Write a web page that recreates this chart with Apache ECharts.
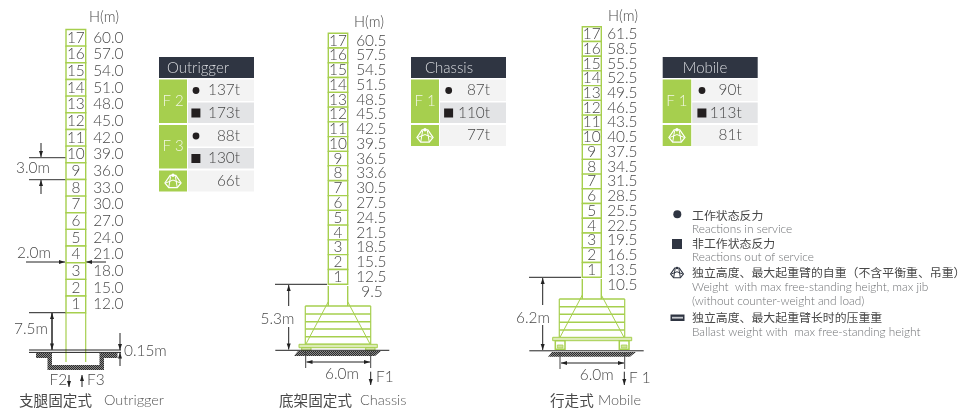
<!DOCTYPE html>
<html><head><meta charset="utf-8">
<style>html,body{margin:0;padding:0;background:#fff}#c{width:964px;height:410px}</style>
<script src="https://cdn.jsdelivr.net/npm/echarts@6/dist/echarts.min.js"></script>
</head><body><div id="c"></div>
<script>
const sections = [17,16,15,14,13,12,11,10,9,8,7,6,5,4,3,2,1];
const outriggerH = [60.0,57.0,54.0,51.0,48.0,45.0,42.0,39.0,36.0,33.0,30.0,27.0,24.0,21.0,18.0,15.0,12.0];
const chassisH   = [60.5,57.5,54.5,51.5,48.5,45.5,42.5,39.5,36.5,33.6,30.5,27.5,24.5,21.5,18.5,15.5,12.5];
const mobileH    = [61.5,58.5,55.5,52.5,49.5,46.5,43.5,40.5,37.5,34.5,31.5,28.5,25.5,22.5,19.5,16.5,13.5];
const chassisBase = [9.5];
const mobileBase = [10.5];
const outriggerRows = [['F 2',137,173],['F 3',88,130]];
const outriggerWeight = 66;
const chassisRows = [['F 1',87,110]];
const chassisWeight = 77;
const mobileRows = [['F 1',90,113]];
const mobileWeight = 81;

const GREEN='#a6cf4e', DARK='#2f3542', TXT='#484848', GREY='#6f7174', BLK='#231f20';
const LAT='Lato, "Open Sans", sans-serif', CJK='"Noto Sans CJK SC", sans-serif';
const NUM=15.4;

const hatchCanvas=document.createElement('canvas');
hatchCanvas.width=2;hatchCanvas.height=2;
(function(){const g=hatchCanvas.getContext('2d');g.fillStyle='#8a8a8a';g.fillRect(0,0,2,2);g.fillStyle='#2c2c2c';g.fillRect(0,0,1,1);g.fillRect(1,1,1,1);})();
const HATCH={image:hatchCanvas,repeat:'repeat'};

const els=[];
function line(x1,y1,x2,y2,c,w){els.push({type:'line',silent:true,shape:{x1,y1,x2,y2},style:{stroke:c||'#333',lineWidth:w||1}});}
function rect(x,y,w,h,fill,stroke,lw){els.push({type:'rect',silent:true,shape:{x,y,width:w,height:h},style:{fill:fill||'none',stroke:stroke||'none',lineWidth:lw||1}});}
function poly(points,fill,stroke,lw){els.push({type:'polygon',silent:true,shape:{points},style:{fill:fill||'none',stroke:stroke||'none',lineWidth:lw||1}});}
function text(x,y,s,o){o=o||{};els.push({type:'text',silent:true,style:{x,y,text:s,align:o.align||'left',verticalAlign:'middle',fill:o.color||TXT,font:(o.weight||300)+' '+(o.size||NUM)+'px '+(o.family||LAT)}});}
function arrow(x1,y1,x2,y2,c){
  c=c||'#222';line(x1,y1,x2,y2,c,1);
  const d=Math.hypot(x2-x1,y2-y1),ux=(x2-x1)/d,uy=(y2-y1)/d,L=6,H=2;
  poly([[x2,y2],[x2-ux*L-uy*H,y2-uy*L+ux*H],[x2-ux*L+uy*H,y2-uy*L-ux*H]],c);
}
function truss(cx,cy,c,s){ // weight icon
  s=s||1;
  const p=(pts)=>pts.map(a=>[cx+a[0]*s,cy+a[1]*s]);
  els.push({type:'polygon',silent:true,shape:{points:p([[-3,-6],[3,-6],[8.5,2],[4.5,7],[-4.5,7],[-8.5,2]])},style:{fill:'none',stroke:c,lineWidth:1.2}});
  els.push({type:'circle',silent:true,shape:{cx:cx,cy:cy-6*s,r:1.8*s},style:{fill:c,stroke:'none'}});
  els.push({type:'polyline',silent:true,shape:{points:p([[-2.5,-5],[-4.5,7]])},style:{fill:'none',stroke:c,lineWidth:1}});
  els.push({type:'polyline',silent:true,shape:{points:p([[2.5,-5],[4.5,7]])},style:{fill:'none',stroke:c,lineWidth:1}});
  els.push({type:'polyline',silent:true,shape:{points:p([[-7.5,2],[0,-1],[7.5,2]])},style:{fill:'none',stroke:c,lineWidth:1}});
}
function table(x,title,titleCx,rows,weight,colW,symX,valR){
  const w=95;
  rect(x,57,w,21,DARK);
  text(titleCx,68,title,{align:'center',color:'#d8dade',size:15});
  let y=79.5;
  rows.forEach(r=>{
    const h=44.5;
    rect(x,y,colW,h-1,GREEN);
    text(x+colW/2,y+h/2-1,r[0],{align:'center',color:'#f3f7e6',size:15});
    rect(x+colW+1,y,w-colW-1,21.5,'#f3f3f3');
    rect(x+colW+1,y+23,w-colW-1,20.5,'#e3e4e6');
    els.push({type:'circle',silent:true,shape:{cx:symX,cy:y+11,r:3.4},style:{fill:BLK}});
    rect(symX-4.6,y+29,9,9,BLK);
    text(valR,y+11,r[1]+'t',{align:'right'});
    text(valR,y+33.5,r[2]+'t',{align:'right'});
    y+=h+1;
  });
  rect(x,y,colW,21,GREEN);
  truss(x+colW/2,y+10.5,'#fff',0.95);
  rect(x+colW+1,y,w-colW-1,21,'#f3f3f3');
  text(valR,y+10.5,weight+'t',{align:'right'});
}

/* outrigger base */
line(29,157.7,66,157.7,'#333',1);line(29,179.7,66,179.7,'#333',1);
arrow(41,143,41,157);arrow(41,194,41,180);
text(33,168,'3.0m',{align:'center'});
text(34,253,'2.0m',{align:'center'});
arrow(26,262,65,262);arrow(106,262,86,262);
line(66,312.7,66,362,GREEN,1.2);line(85.7,312.7,85.7,362,GREEN,1.2);
line(29,312.7,66,312.7,'#222',1);
line(52,313,52,350,'#222',1);
arrow(52,330,52,313);arrow(52,330,52,349.5);
text(31,329.5,'7.5m',{align:'center'});
poly([[36,353],[52,353],[52,365],[99.5,365],[99.5,353],[117.5,353],[117.5,358],[104,358],[104,370],[47.5,370],[47.5,358],[36,358]],HATCH);
line(29,350,121,350,'#222',1);line(29,352.4,121,352.4,'#222',1);
arrow(120,333,120,350);arrow(120,366,120,352.4);
text(124,351,'0.15m');
text(49.5,380,'F2');arrow(69,375,69,387);arrow(82,387,82,375);text(87,380,'F3');
text(19,400,'支腿固定式',{family:CJK,size:14.6,weight:400});
text(104,400,'Outrigger',{size:14.5,color:'#555'});
text(104,17,'H(m)',{align:'center',size:14.6});

/* chassis base */
function frame(l,r,ys,topX1,topX2,topY,towerBottom){
  line(topX1,towerBottom-20,topX1,towerBottom,GREEN,1.4);line(topX2,towerBottom-20,topX2,towerBottom,GREEN,1.4);
  line(l,ys[0],l,ys[5],GREEN,1.2);line(r,ys[0],r,ys[5],GREEN,1.2);
  ys.forEach(y=>line(l,y,r,y,GREEN,1.4));
  line(topX1,topY,l+.5,ys[5],GREEN,1);line(topX2,topY,r-.5,ys[5],GREEN,1);
}
frame(305.3,370.7,[306,314,321.7,329,336.7,344.3],328.3,347.7,301.7,306);
rect(299,344.3,78.3,3.4,'#dcebb5',GREEN,1);
rect(301.7,347.7,9.3,2.5,'#dcebb5',GREEN,1);rect(365.7,347.7,9.3,2.5,'#dcebb5',GREEN,1);
poly([[298,351],[381,351],[375,356],[294,356]],HATCH);
line(275.3,350.3,389.3,350.3,'#222',1);
line(275,284.3,327,284.3,'#222',1);
arrow(288.7,306,288.7,285);arrow(288.7,327,288.7,349.5);
text(277.5,319,'5.3m',{align:'center'});
line(305.7,352,305.7,368,'#444',1);line(370.7,352,370.7,368,'#444',1);
arrow(338,362,306.5,362);arrow(338,362,370,362);
text(342,374,'6.0m',{align:'center'});
arrow(370.7,371.7,370.7,385);text(376,377,'F1');
text(279,400,'底架固定式',{family:CJK,size:14.6,weight:400});
text(360,400,'Chassis',{size:14.5,color:'#555'});
text(369,22,'H(m)',{align:'center',size:14.6});

/* mobile base */
frame(559.3,624.7,[299,306.7,314.3,322.3,330,337.7],582.3,601.3,295,299);
rect(552.7,337.3,79,3.4,'#dcebb5',GREEN,1);
[555.3,619.3].forEach(x=>{rect(x,340.7,9.7,8.5,'#fff',GREEN,1.5);rect(x+2,345,5.7,3,'#cfe39a',GREEN,.8);});
poly([[552,352],[636,352],[630,356.8],[548,356.8]],HATCH);
line(529.3,350.8,643.7,350.8,'#222',1);
line(529,277.3,581,277.3,'#222',1);
arrow(542.7,305,542.7,278);arrow(542.7,325,542.7,350);
text(533,318,'6.2m',{align:'center'});
line(560,352,560,369,'#444',1);line(624.7,352,624.7,369,'#444',1);
arrow(592,363,561,363);arrow(592,363,624,363);
text(596.7,375,'6.0m',{align:'center'});
arrow(624.3,371.7,624.3,385);text(629,378,'F 1');
text(550,400,'行走式',{family:CJK,size:14.6,weight:400});
text(598,400,'Mobile',{size:14.5,color:'#555'});
text(623,16,'H(m)',{align:'center',size:14.6});

/* tables */
table(159,'Outrigger',198,outriggerRows,outriggerWeight,28,196,240);
table(411,'Chassis',449,chassisRows,chassisWeight,28,448.7,490);
table(662.7,'Mobile',705,mobileRows,mobileWeight,28.5,702,741.7);

/* legend */
const LX=692;
els.push({type:'circle',silent:true,shape:{cx:677.3,cy:214.3,r:4},style:{fill:DARK}});
text(LX,215,'工作状态反力',{family:CJK,size:11.9,weight:400});
text(LX,229,'Reactions in service',{size:11.8,color:GREY});
rect(672,239,10,10,DARK);
text(LX,243,'非工作状态反力',{family:CJK,size:11.9,weight:400});
text(LX,257.5,'Reactions out of service',{size:11.8,color:GREY});
truss(677,272.5,DARK,0.75);
text(LX,272,'独立高度、最大起重臂的自重（不含平衡重、吊重）',{family:CJK,size:11.9,weight:400});
text(LX,287,'Weight  with max free-standing height, max jib',{size:11.8,color:GREY});
text(LX,301,'(without counter-weight and load)',{size:11.8,color:GREY});
rect(670.5,314.5,14,6.5,DARK);rect(672,316.8,11,1.8,'#c9ccd1');
text(LX,317.7,'独立高度、最大起重臂长时的压重重',{family:CJK,size:11.9,weight:400});
text(LX,332,'Ballast weight with  max free-standing height',{size:11.8,color:GREY});

function mastSeries(idx,H,labelRight){
  return {
    type:'custom',xAxisIndex:idx,yAxisIndex:idx,clip:false,silent:true,z:3,
    data:H.map((h,i)=>[h,sections[i]]),
    renderItem:function(params,api){
      const h=api.value(0),s=api.value(1);
      const a=api.coord([0,h+1.5]),b=api.coord([2,h-1.5]),m=api.coord([1,h]);
      return {type:'group',children:[
        {type:'rect',shape:{x:a[0],y:a[1],width:b[0]-a[0],height:b[1]-a[1]},style:{fill:'#fff',stroke:GREEN,lineWidth:1.4}},
        {type:'text',style:{x:m[0],y:m[1],text:String(s),align:'center',verticalAlign:'middle',fill:TXT,font:'300 '+NUM+'px '+LAT}},
        {type:'text',style:{x:labelRight,y:m[1],text:h.toFixed(1),align:'right',verticalAlign:'middle',fill:TXT,font:'300 '+NUM+'px '+LAT}}
      ]};
    }
  };
}
function baseSeries(idx,H,x,align){
  return {
    type:'custom',xAxisIndex:idx,yAxisIndex:idx,clip:false,silent:true,z:3,
    data:H.map(h=>[h]),
    renderItem:function(params,api){
      const h=api.value(0),m=api.coord([1,h]);
      return {type:'text',style:{x,y:m[1],text:h.toFixed(1),align,verticalAlign:'middle',fill:TXT,font:'300 '+NUM+'px '+LAT}};
    }
  };
}
const mast=(left,w,top,h)=>({left,width:w,top,height:h,show:false});
const xA=i=>({type:'value',gridIndex:i,min:0,max:2,show:false});
const yA=(i,max)=>({type:'value',gridIndex:i,min:0,max,show:false});
const chart=echarts.init(document.getElementById('c'),null,{renderer:'canvas'});
chart.setOption({
  animation:false,
  backgroundColor:'#fff',
  grid:[mast(66,19.7,29.5,341.5),mast(328.3,19.4,33.3,305),mast(582.3,19,26.7,309.5)],
  xAxis:[xA(0),xA(1),xA(2)],
  yAxis:[yA(0,61.5),yA(1,62),yA(2,63)],
  series:[
    mastSeries(0,outriggerH,123.5),
    mastSeries(1,chassisH,386.5),
    mastSeries(2,mobileH,637.5),
    baseSeries(1,chassisBase,372,'center'),
    baseSeries(2,mobileBase,637.5,'right')
  ],
  graphic:{elements:els}
});
</script></body></html>
